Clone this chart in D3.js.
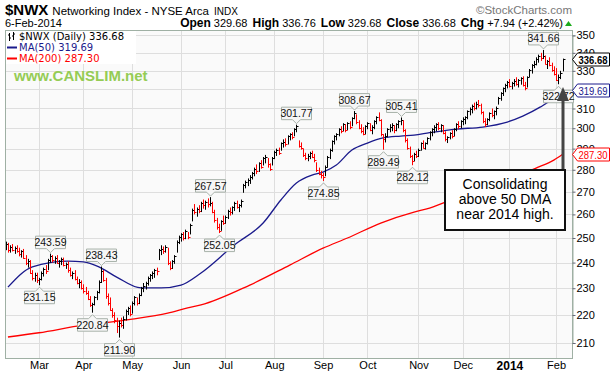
<!DOCTYPE html>
<html>
<head>
<meta charset="utf-8">
<script src="https://cdn.jsdelivr.net/npm/d3@7"></script>
<style>
  body { margin: 0; background: #fff; }
  svg { display: block; font-family: "Liberation Sans", Arial, sans-serif; }
</style>
</head>
<body>
<svg width="611" height="373"></svg>
<script>
var width = 611;
var height = 373;
var plot = { left: 5, right: 572, top: 30, bottom: 358 };

// trading calendar
var firstDay = "2013-02-06";
var lastDay = "2014-02-06";
var holidays = ["2013-02-18", "2013-03-29", "2013-05-27", "2013-07-04", "2013-09-02",
                "2013-11-28", "2013-12-25", "2014-01-01", "2014-01-20"];
var monthLabels = ["Mar", "Apr", "May", "Jun", "Jul", "Aug", "Sep", "Oct", "Nov", "Dec", "2014", "Feb"];
var priceTicks = [210, 220, 230, 240, 250, 260, 270, 280, 290, 300, 310, 320, 330, 340, 350];

// daily bars
var highs = [
  248, 248.5, 248, 247, 247.5, 246.5, 247, 246, 245, 245.5, 243, 241.5, 241, 237, 236, 236, 234, 236.5, 238, 239,
  241.5, 243.59, 243, 242.5, 243, 241, 242,
  242, 240, 240.5, 238, 236.5, 237, 234.5, 233.5, 233, 231.5, 230.5, 229, 227, 224.5, 227, 229, 233, 238.43, 237, 234,
  228, 226.5, 222.5, 221, 219, 218, 219, 219.5, 222, 223, 223.5,
  225, 227, 226.5, 228, 230.5, 232, 232.5, 234.5, 235.5, 236.5, 237.5, 238, 245.5, 247, 246.5, 247, 246, 240.5, 241,
  243, 249, 251, 252, 252.5, 253.5,
  252.5, 256, 262.5, 264.5, 263, 264, 265.5, 266.5, 266, 267, 267.57, 265.5, 262, 258.5, 256, 257.5, 259.5, 259.5, 262,
  263, 263.5, 265.5, 266, 264.5, 266.5, 273.5, 275, 276, 277.5, 279, 281, 282.5, 283.5, 284.5, 286, 287, 285.5, 283,
  286, 289, 290, 290.5, 293, 294.5, 295, 296.5, 297.5, 298, 300, 301.77,
  294, 293, 290, 288, 287.5, 288.5, 289, 287.5, 283.5, 281, 279.5, 278.5, 282, 286.5, 290, 294, 296.5, 297.5, 300, 301,
  302.5, 302, 303, 303.5, 305.5, 308.67, 307, 304, 302, 300.5, 301.5, 303, 302.5, 301.5, 304, 306, 308, 304.5, 297,
  297.5, 300, 302, 302.5, 301.5, 302.5, 304, 305.41, 304, 299.5, 295, 291, 287, 288, 289, 290, 293, 294, 293, 295.5,
  298.5, 300, 301.5, 302.5, 303, 302, 301.5, 298.5, 296, 298, 299, 300, 302.5, 303.5, 304, 305.5, 306, 309, 310.5, 312,
  313, 313.5, 314.4, 312.5, 308.5, 305, 305, 308, 310, 309, 311, 316, 318.5, 321, 323, 324.5, 325.5, 324, 325.5, 326.5,
  325.5, 326.5, 327, 324, 327, 331, 333.7, 335.5, 337.5, 339, 340, 341.66, 338.5, 336, 337.5, 334.5, 332.5, 331.5, 328,
  330, 336.76
];
var lows = [
  244.5, 245, 244, 244, 244.5, 243.5, 244, 242.5, 242, 241.5, 239, 238, 235.5, 233, 232.5, 232, 231.15, 233, 234.5, 235.5,
  237, 240, 240, 239.5, 239.5, 238, 239,
  238.5, 237.5, 236, 234.5, 233.5, 233, 231.5, 230, 229.5, 228, 227.5, 225.5, 223, 220.84, 223.5, 225.5, 228, 232, 232.5,
  226, 223.5, 221.5, 219, 217, 213.5, 211.9, 215.5, 215, 218, 220, 219.5,
  220.5, 223.5, 223.5, 224, 227, 228.5, 229.5, 231, 232.5, 233.5, 234, 235, 241, 243, 243.5, 244, 239, 237, 237.5,
  239.5, 244, 247.5, 248.5, 249, 249.5,
  249.5, 251.5, 257, 260, 259, 260.5, 261, 262.5, 262, 263, 263.5, 260.5, 256.5, 253.5, 252.05, 253, 255.5, 256, 258,
  259.5, 260, 261.5, 262.5, 261, 263, 269.5, 271.5, 272.5, 273.5, 275.5, 277, 278, 279, 280.5, 282, 283, 281, 279.5,
  282, 285, 286.5, 287, 289, 290.5, 291, 292, 294, 294.5, 296, 298,
  290.5, 289.5, 286, 284.5, 284, 285, 285.5, 283.5, 279, 277.5, 276, 274.85, 277, 281, 285, 288.5, 292, 294, 296, 297.5,
  298.5, 298, 299, 299.5, 301, 304.5, 302, 299.5, 297.5, 296.5, 297, 299.5, 298.5, 297, 299.5, 302, 303.5, 296, 289.49,
  293, 295.5, 298, 298.5, 297.5, 298.5, 300, 301.5, 298, 293, 289.5, 285.5, 282.12, 284, 285.5, 286, 289, 290, 289.5, 292,
  294, 296, 297.5, 298.5, 299, 298, 297, 293.5, 292.7, 294.5, 295, 296, 298.5, 299.5, 300, 301.5, 302, 304.5, 306.5, 307.5,
  309, 309.5, 310.5, 307, 302.5, 300.6, 301.5, 303.5, 305.5, 304.5, 306.5, 312, 314, 316.5, 318.5, 320.5, 321, 320, 321.5,
  322, 321, 322.5, 321.5, 319.5, 321, 326.5, 328.5, 331.5, 333, 334.5, 335.5, 336.5, 333.5, 331, 332.5, 329.5, 327.5,
  324.5, 322.72, 325.5, 329.68
];
var closes = [
  246, 247.5, 245, 246.5, 245, 246, 244.5, 243.5, 244.5, 242, 240, 240.5, 236, 234, 235, 233, 233.5, 236, 237.5, 236.5,
  241, 242.5, 241, 242, 240, 240.5, 241.5,
  239, 239.5, 237, 235, 236, 233.5, 232, 232.5, 230, 229, 228, 226, 223.5, 224, 226.5, 228.5, 232.5, 236.5, 233, 227,
  224.5, 222, 220, 218, 216, 217, 216.5, 218.5, 221.5, 222.5, 220.5,
  224.5, 226.5, 224.5, 227.5, 230, 231, 232, 234, 235, 236, 237, 236.5, 245, 245.5, 244.5, 246.5, 240, 238, 240.5,
  242.5, 248.5, 250.5, 251.5, 250, 253,
  250.5, 255.5, 262, 261, 262.5, 261.5, 265, 264, 265.5, 264.5, 265, 261, 257.5, 254.5, 253, 257, 256.5, 259, 261.5,
  261, 263, 265, 263, 264, 266, 273, 274.5, 275.5, 276.5, 278.5, 280.5, 279.5, 283, 281.5, 285.5, 286, 282.5, 280.5,
  285.5, 288.5, 289.5, 288, 292.5, 293, 292, 296, 297, 295.5, 299.5, 301,
  291.5, 290.5, 287, 285.5, 286.5, 288, 286, 284.5, 280, 278, 277.5, 276.5, 281.5, 286, 289.5, 293.5, 296, 297, 299.5,
  298.5, 302, 299, 302.5, 300.5, 305, 307.5, 303, 300, 298.5, 297, 301, 302.5, 299, 300.5, 303.5, 305.5, 304, 297,
  294.5, 296, 299.5, 300.5, 301.5, 299, 302, 303.5, 304, 299, 294, 290.5, 286.5, 284, 287.5, 286.5, 289.5, 292.5, 290.5,
  292.5, 295,
  298, 299.5, 300.5, 302, 300, 301.5, 297.5, 294.5, 295.5, 297.5, 296, 299.5, 302, 301, 303.5, 304.5, 305.5, 308.5, 309.5,
  311.5, 310, 312.5, 312, 308, 303.5, 302, 304.5, 307.5, 306.5, 308.5, 310.5, 315.5, 318, 320.5, 322.5, 324, 322, 323.5,
  324.5, 323, 325, 326, 322.5, 320.5, 326.5, 330.5, 333, 334, 336.5, 338.5, 337, 338, 334, 335.5, 333, 330.5, 328.5,
  325, 326.5, 328.74, 336.68
];

// moving averages, read at bar positions
var ma50Idx  = [2, 13, 29, 36, 43, 51, 62, 71, 80, 89, 104, 117, 125, 132, 139, 144, 150, 157, 164, 171, 179, 185, 192, 204, 216, 227, 234, 242, 248, 252];
var ma50Vals = [230.4, 238.3, 240.6, 240.3, 238.3, 234.3, 230.1, 230.1, 231.2, 235.9, 247.1, 256.3, 266.3, 273.9, 277.5, 278.9, 282.2, 289.3, 292.7, 295.2, 296.1, 296.6, 297.8, 299.6, 300.6, 303.1, 306.1, 310.8, 315.4, 319.69];
var ma200Idx  = [2, 16, 36, 48, 58, 74, 83, 89, 111, 129, 144, 155, 170, 185, 192, 198, 219, 240, 248, 252];
var ma200Vals = [212.1, 213.6, 216.3, 217.4, 218.5, 220.7, 222.6, 223.7, 231.2, 239.0, 245.8, 250.0, 256.3, 261.0, 262.7, 264.9, 272.6, 280.8, 284.5, 287.3];

// swing high / low labels: bar index, value, side
var swingIdx  = [21, 16, 44, 40, 52, 93, 97, 132, 144, 158, 171, 179, 184, 243, 250];
var swingVals = [243.59, 231.15, 238.43, 220.84, 211.90, 267.57, 252.05, 301.77, 274.85, 308.67, 289.49, 305.41, 282.12, 341.66, 322.72];
var swingSide = ["up", "down", "up", "down", "down", "up", "down", "up", "down", "up", "down", "up", "down", "up", "down"];

var parseDay = d3.utcParse("%Y-%m-%d");
var fmtDay = d3.utcFormat("%Y-%m-%d");
var days = d3.utcDay.range(parseDay(firstDay), d3.utcDay.offset(parseDay(lastDay), 1))
  .filter(d => d.getUTCDay() % 6 !== 0 && holidays.indexOf(fmtDay(d)) < 0);

var monthStarts = [];
days.forEach(function(d, i) {
  if (i > 0 && d.getUTCMonth() !== days[i - 1].getUTCMonth()) monthStarts.push(i);
});

var xScale = d3.scaleLinear()
  .domain([0, days.length - 1])
  .range([3.5, 562.7]);

var yScale = d3.scaleLog()
  .domain([210, 350])
  .range([343, 35.4]);

var svg = d3.select("svg");

svg.append("defs").append("clipPath").attr("id", "clip")
  .append("rect")
    .attr("x", plot.left).attr("y", plot.top)
    .attr("width", plot.right - plot.left).attr("height", plot.bottom - plot.top);

// plot background
svg.append("rect")
  .attr("x", plot.left).attr("y", plot.top)
  .attr("width", plot.right - plot.left).attr("height", plot.bottom - plot.top)
  .attr("fill", "#fafafa");

// grid
var grid = svg.append("g").attr("clip-path", "url(#clip)");
grid.selectAll(".hgrid")
  .data(priceTicks)
  .enter().append("line")
    .attr("x1", plot.left).attr("x2", plot.right)
    .attr("y1", d => Math.round(yScale(d)) + 0.5)
    .attr("y2", d => Math.round(yScale(d)) + 0.5)
    .attr("stroke", "#dedede");
grid.selectAll(".vgrid")
  .data(monthStarts)
  .enter().append("line")
    .attr("x1", d => Math.round(xScale(d)) + 0.5)
    .attr("x2", d => Math.round(xScale(d)) + 0.5)
    .attr("y1", plot.top).attr("y2", plot.bottom)
    .attr("stroke", "#dedede");

// moving averages
var maLine = d3.line()
  .x(d => xScale(d[0]))
  .y(d => yScale(d[1]))
  .curve(d3.curveMonotoneX);

var marks = svg.append("g").attr("clip-path", "url(#clip)");

marks.append("path")
  .datum(d3.zip(ma200Idx, ma200Vals))
  .attr("d", maLine)
  .attr("fill", "none")
  .attr("stroke", "#ff0000")
  .attr("stroke-width", 1.3);

marks.append("path")
  .datum(d3.zip(ma50Idx, ma50Vals))
  .attr("d", maLine)
  .attr("fill", "none")
  .attr("stroke", "#1a1a8c")
  .attr("stroke-width", 1.3);

// price bars
var barColor = (d, i) => (i > 0 && closes[i] < closes[i - 1]) ? "#ff0000" : "#000";
var bars = marks.selectAll(".bar")
  .data(closes)
  .enter().append("g")
    .attr("stroke", barColor)
    .attr("transform", (d, i) => `translate(${Math.round(xScale(i)) + 0.5},0)`);

bars.append("line")
  .attr("y1", (d, i) => yScale(highs[i]))
  .attr("y2", (d, i) => yScale(lows[i]));

bars.append("line")
  .attr("x1", 0).attr("x2", 2)
  .attr("y1", d => Math.round(yScale(d)) + 0.5)
  .attr("y2", d => Math.round(yScale(d)) + 0.5);

// plot frame
svg.append("rect")
  .attr("x", plot.left + 0.5).attr("y", plot.top + 0.5)
  .attr("width", plot.right - plot.left).attr("height", plot.bottom - plot.top)
  .attr("fill", "none")
  .attr("stroke", "#9fb0a4");

// right axis
var yAxis = d3.axisRight(yScale)
  .tickValues(priceTicks)
  .tickFormat(d3.format("d"))
  .tickSize(3)
  .tickPadding(1);

var yAxisG = svg.append("g")
  .attr("transform", `translate(${plot.right + 0.5},0)`)
  .call(yAxis);
yAxisG.select(".domain").attr("stroke", "#9fb0a4");
yAxisG.selectAll(".tick line").attr("stroke", "#667");
yAxisG.selectAll(".tick text")
  .attr("font-size", 11)
  .attr("font-family", "Liberation Sans, Arial, sans-serif")
  .attr("fill", "#000");

// bottom axis (month starts)
var xAxis = d3.axisBottom(xScale)
  .tickValues(monthStarts)
  .tickFormat((d, i) => monthLabels[i])
  .tickSize(0)
  .tickPadding(3);

var xAxisG = svg.append("g")
  .attr("transform", `translate(0,${plot.bottom})`)
  .call(xAxis);
xAxisG.select(".domain").remove();
xAxisG.selectAll(".tick text")
  .attr("font-family", "Liberation Sans, Arial, sans-serif")
  .attr("fill", "#000")
  .attr("font-weight", (d, i) => monthLabels[i] === "2014" ? "bold" : "normal")
  .attr("font-size", (d, i) => monthLabels[i] === "2014" ? 12 : 11);

// swing labels
var swings = svg.append("g")
  .selectAll("g")
  .data(swingIdx)
  .enter().append("g")
    .attr("transform", (d, i) => {
      var bx = Math.round(xScale(d)) + 0.5;
      var by = yScale(swingVals[i]);
      return `translate(${bx},${swingSide[i] === "up" ? by - 5 : by + 6})`;
    });

swings.append("path")
  .attr("d", (d, i) => swingSide[i] === "up"
    ? "M-15,-12.5H15V0H4L0,4L-4,0H-15Z"
    : "M-15,0H-4L0,-4L4,0H15V12.5H-15Z")
  .attr("fill", "#f6f6f6")
  .attr("stroke", "#a8b2aa");

swings.append("text")
  .attr("y", (d, i) => swingSide[i] === "up" ? -2.5 : 10)
  .attr("text-anchor", "middle")
  .attr("font-size", 10.5)
  .attr("fill", "#111")
  .text((d, i) => swingVals[i].toFixed(2));

// last value flags on the right axis
var flagVals = [closes[closes.length - 1], ma50Vals[ma50Vals.length - 1], ma200Vals[ma200Vals.length - 1]];
var flagColors = ["#000", "#1a1a8c", "#ff0000"];
var flags = svg.append("g")
  .selectAll("g")
  .data(flagVals)
  .enter().append("g")
    .attr("transform", d => `translate(${plot.right + 0.5},${Math.round(yScale(d)) + 0.5})`);

flags.append("path")
  .attr("d", "M0,0L5,-6.5H37V6.5H5Z")
  .attr("fill", "#fff")
  .attr("stroke", (d, i) => flagColors[i]);

flags.append("text")
  .attr("x", 6)
  .attr("y", 4)
  .attr("font-size", 10.5)
  .attr("textLength", 29)
  .attr("lengthAdjust", "spacingAndGlyphs")
  .attr("font-weight", (d, i) => i === 0 ? "bold" : "normal")
  .attr("fill", (d, i) => flagColors[i])
  .text(d => d.toFixed(2));

// legend
svg.append("rect")
  .attr("x", plot.left + 1).attr("y", plot.top + 1)
  .attr("width", 130).attr("height", 33)
  .attr("fill", "#fff");

var legend = svg.append("g")
  .attr("font-family", "DejaVu Sans, Verdana, sans-serif")
  .attr("font-size", 10);

legend.append("path")
  .attr("d", "M9.5,33V41M8,35H9.5M9.5,38H11M13.5,32V40M12,36H13.5M13.5,34H15")
  .attr("stroke", "#000")
  .attr("fill", "none");
legend.append("text").attr("x", 19).attr("y", 40).attr("fill", "#000")
  .text("$NWX (Daily) " + closes[closes.length - 1].toFixed(2));

legend.append("line").attr("x1", 7).attr("x2", 17).attr("y1", 47.5).attr("y2", 47.5)
  .attr("stroke", "#1a1a8c").attr("stroke-width", 2);
legend.append("text").attr("x", 19).attr("y", 51).attr("fill", "#1a1a8c")
  .text("MA(50) " + ma50Vals[ma50Vals.length - 1].toFixed(2));

legend.append("line").attr("x1", 7).attr("x2", 17).attr("y1", 58.5).attr("y2", 58.5)
  .attr("stroke", "#ff0000").attr("stroke-width", 2);
legend.append("text").attr("x", 19).attr("y", 62).attr("fill", "#ff0000")
  .text("MA(200) " + ma200Vals[ma200Vals.length - 1].toFixed(2));

// watermark
svg.append("text")
  .attr("x", 14).attr("y", 81)
  .attr("font-size", 15)
  .attr("font-weight", "bold")
  .attr("fill", "#95cc55")
  .text("www.CANSLIM.net");

// header
var title = svg.append("text").attr("x", 5).attr("y", 15);
title.append("tspan").attr("font-size", 15).attr("font-weight", "bold").text("$NWX");
title.append("tspan").attr("dx", 4).attr("font-size", 11.5).text("Networking Index - NYSE Arca");
title.append("tspan").attr("dx", 5).attr("font-size", 10).text("INDX");

svg.append("text")
  .attr("x", plot.right).attr("y", 14)
  .attr("text-anchor", "end")
  .attr("font-size", 11.5)
  .attr("fill", "#777")
  .text("\u00a9StockCharts.com");

svg.append("text")
  .attr("x", 5).attr("y", 27)
  .attr("font-size", 11)
  .text("6-Feb-2014");

var quoteLabels = ["Open", "High", "Low", "Close", "Chg"];
var quoteValues = ["329.68", "336.76", "329.68", "336.68", "+7.94 (+2.42%)"];
var quote = svg.append("text")
  .attr("x", 563).attr("y", 27)
  .attr("text-anchor", "end");
quoteLabels.forEach(function(lab, i) {
  quote.append("tspan").attr("dx", i ? 5 : 0).attr("font-size", 12).attr("font-weight", "bold").text(lab);
  quote.append("tspan").attr("dx", 3).attr("font-size", 11).text(quoteValues[i]);
});
svg.append("path")
  .attr("d", "M565,26L568.5,21L572,26Z")
  .attr("fill", "#1cab1c");

// callout
svg.append("line")
  .attr("x1", 563).attr("x2", 563)
  .attr("y1", 170).attr("y2", 100)
  .attr("stroke", "#444")
  .attr("stroke-width", 3);
svg.append("path")
  .attr("d", "M563,87L557,101H569Z")
  .attr("fill", "#444");

svg.append("rect")
  .attr("x", 445).attr("y", 170)
  .attr("width", 120).attr("height", 60)
  .attr("fill", "#fff")
  .attr("stroke", "#111")
  .attr("stroke-width", 2);

svg.append("text")
  .attr("text-anchor", "middle")
  .attr("font-size", 14)
  .selectAll("tspan")
  .data(["Consolidating", "above 50 DMA", "near 2014 high."])
  .enter().append("tspan")
    .attr("x", 505)
    .attr("y", (d, i) => 189 + i * 15)
    .text(d => d);
</script>
</body>
</html>
